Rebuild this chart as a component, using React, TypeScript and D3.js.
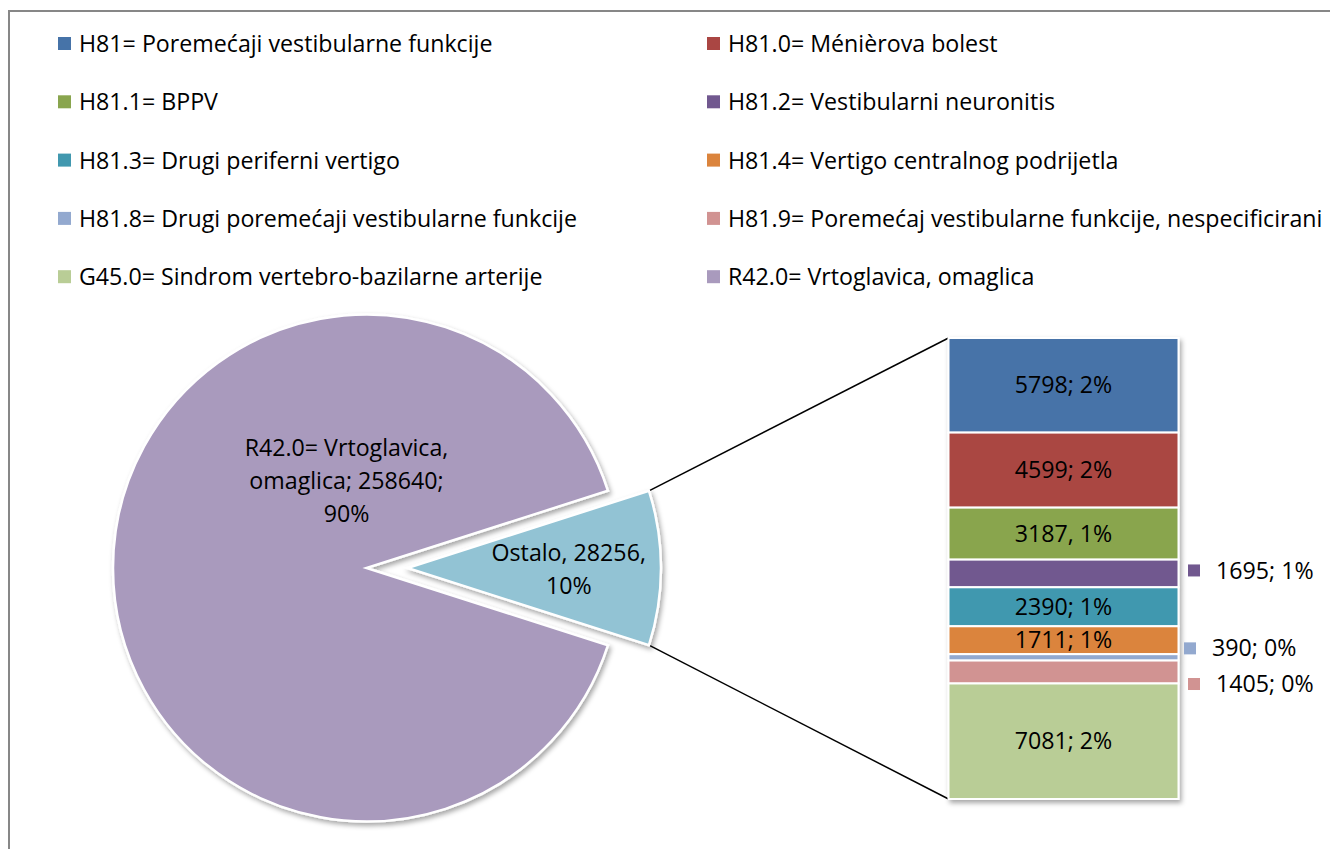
import React from "react";
import * as d3 from "d3";

// legend / bar categories
const categories = [
  "H81= Poremećaji vestibularne funkcije",
  "H81.0= Ménièrova bolest",
  "H81.1= BPPV",
  "H81.2= Vestibularni neuronitis",
  "H81.3= Drugi periferni vertigo",
  "H81.4= Vertigo centralnog podrijetla",
  "H81.8= Drugi poremećaji vestibularne funkcije",
  "H81.9= Poremećaj vestibularne funkcije, nespecificirani",
  "G45.0= Sindrom vertebro-bazilarne arterije",
  "R42.0= Vrtoglavica, omaglica",
];
const colors = [
  "#4673A8", "#AA4643", "#89A54E", "#71588F", "#4198AF",
  "#DB843D", "#93A9CF", "#D19392", "#B9CD96", "#A99ABD",
];

// secondary bar (the "Ostalo" split)
const barValues = [5798, 4599, 3187, 1695, 2390, 1711, 390, 1405, 7081];
const barLabels = ["5798; 2%", "4599; 2%", "3187, 1%", "1695; 1%", "2390; 1%", "1711; 1%", "390; 0%", "1405; 0%", "7081; 2%"];
const outsideLabel = [false, false, false, true, false, false, true, true, false];
const outsideShift = [0, 0, 0, -3, 0, 0, -9, 12, 0];

// primary pie
const pieNames = ["Ostalo", "R42.0= Vrtoglavica, omaglica"];
const pieValues = [28256, 258640];
const pieColors = ["#92C3D4", "#A99ABD"];
const pieLabelLines = [
  ["Ostalo, 28256,", "10%"],
  ["R42.0= Vrtoglavica,", "omaglica; 258640;", "90%"],
];

const W = 1330;
const H = 849;
const font = "'Open Sans', 'Noto Sans', sans-serif";
const fs = 23.2;

export default function App() {
  const cx = 366.5;
  const cy = 568;
  const r = 253.5;
  const explode = 41;

  const total = d3.sum(pieValues);
  const ostaloAngle = (pieValues[0] / total) * 2 * Math.PI;
  const start = Math.PI / 2 - ostaloAngle / 2;
  const pie = d3
    .pie<number>()
    .sort(null)
    .value((d) => d)
    .startAngle(start)
    .endAngle(start + 2 * Math.PI);
  const arcs = pie(pieValues);
  const arc = d3.arc<d3.PieArcDatum<number>>().innerRadius(0).outerRadius(r);

  const ox = cx + explode; // exploded slice centre
  const pt = (a: number) => [ox + r * Math.sin(a), cy - r * Math.cos(a)];
  const topPt = pt(arcs[0].startAngle);
  const botPt = pt(arcs[0].endAngle);

  // bar
  const barX = 948.5;
  const barW = 230;
  const y = d3.scaleLinear().domain([0, d3.sum(barValues)]).range([338, 799]);
  const cum = d3.cumsum(barValues);
  const segs = barValues.map((v, i) => ({ v, y0: y(cum[i] - v), y1: y(cum[i]) }));

  const legendX = [58, 707];
  const legendY0 = 52;
  const legendDy = 58.3;

  return (
    <svg width={W} height={H} style={{ position: "absolute", left: 0, top: 0 }} fontFamily={font}>
      <defs>
        <filter id="sh" x="-20%" y="-20%" width="140%" height="140%">
          <feDropShadow dx="2" dy="3" stdDeviation="2.5" floodColor="#000" floodOpacity="0.35" />
        </filter>
      </defs>
      <rect x={0} y={0} width={W} height={H} fill="#fff" />
      <rect x={9} y={11} width={W + 20} height={H + 20} fill="none" stroke="#878787" strokeWidth={2} />

      {/* legend */}
      {categories.map((c, i) => {
        const col = i % 2;
        const row = Math.floor(i / 2);
        const by = legendY0 + row * legendDy;
        return (
          <g key={c}>
            <rect x={legendX[col]} y={by - 15} width={13} height={13} fill={colors[i]} />
            <text x={legendX[col] + 21} y={by} fontSize={fs} fill="#000">{c}</text>
          </g>
        );
      })}

      {/* connector lines */}
      <line x1={topPt[0]} y1={topPt[1]} x2={barX} y2={y(0)} stroke="#000" strokeWidth={1.5} />
      <line x1={botPt[0]} y1={botPt[1]} x2={barX} y2={y(d3.sum(barValues))} stroke="#000" strokeWidth={1.5} />

      {/* pie */}
      <g filter="url(#sh)">
        {arcs.map((a, i) => (
          <path
            key={pieNames[i]}
            d={arc(a) || ""}
            transform={`translate(${i === 0 ? ox : cx},${cy})`}
            fill={pieColors[i]}
            stroke="#fff"
            strokeWidth={2.5}
            strokeLinejoin="miter"
          />
        ))}
      </g>
      {/* pie labels */}
      <text x={ox + r * 0.636} y={cy - 7} textAnchor="middle" fontSize={fs} fill="#000">
        {pieLabelLines[0].map((l, j) => (
          <tspan key={j} x={ox + r * 0.636} dy={j === 0 ? 0 : 33}>{l}</tspan>
        ))}
      </text>
      <text x={cx - 20} y={cy - 112} textAnchor="middle" fontSize={fs} fill="#000">
        {pieLabelLines[1].map((l, j) => (
          <tspan key={j} x={cx - 20} dy={j === 0 ? 0 : 33}>{l}</tspan>
        ))}
      </text>

      {/* bar of pie */}
      <g filter="url(#sh)">
        {segs.map((s, i) => (
          <rect
            key={i}
            x={barX}
            y={s.y0}
            width={barW}
            height={s.y1 - s.y0}
            fill={colors[i]}
            stroke="#fff"
            strokeWidth={2}
          />
        ))}
      </g>
      {segs.map((s, i) => {
        const mid = (s.y0 + s.y1) / 2;
        if (!outsideLabel[i]) {
          return (
            <text key={i} x={barX + barW / 2} y={mid} dy="0.35em" textAnchor="middle" fontSize={fs} fill="#000">
              {barLabels[i]}
            </text>
          );
        }
        const ly = mid + outsideShift[i];
        const small = barValues[i] < 1000;
        const mx = small ? 1184 : 1188;
        return (
          <g key={i}>
            <rect x={mx} y={ly - 6} width={12} height={12} fill={colors[i]} />
            <text x={mx + 28} y={ly} dy="0.35em" fontSize={fs} fill="#000">{barLabels[i]}</text>
          </g>
        );
      })}
    </svg>
  );
}
